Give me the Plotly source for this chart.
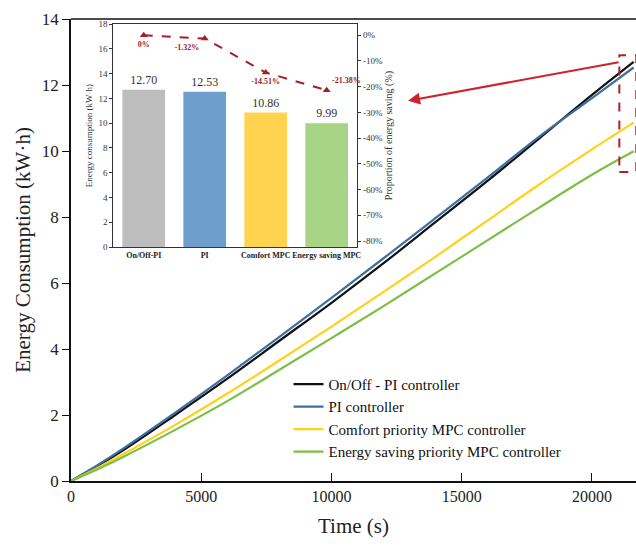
import plotly.graph_objects as go

# ---- main curves data ----
time_s = [0, 1000, 2000, 4000, 6000, 8000, 10000, 12000, 14000, 16000, 18000, 20000, 21600]
onoff_pi = [0, 0.45, 0.93, 2.0, 3.1, 4.25, 5.4, 6.6, 7.85, 9.1, 10.4, 11.7, 12.70]
pi_ctrl = [0, 0.47, 0.98, 2.07, 3.2, 4.37, 5.55, 6.75, 7.97, 9.2, 10.45, 11.6, 12.53]
comfort_mpc = [0, 0.39, 0.81, 1.7, 2.65, 3.65, 4.68, 5.73, 6.8, 7.9, 9.0, 10.05, 10.86]
saving_mpc = [0, 0.35, 0.73, 1.55, 2.42, 3.37, 4.33, 5.3, 6.3, 7.3, 8.3, 9.28, 9.99]
series_names = ["On/Off - PI controller", "PI controller",
                "Comfort priority MPC controller", "Energy saving priority MPC controller"]
series_colors = ["#111111", "#3F6F9F", "#FFD21A", "#7DBE45"]

# ---- inset data ----
inset_cats = ["On/Off-PI", "PI", "Comfort MPC", "Energy saving MPC"]
inset_energy = [12.70, 12.53, 10.86, 9.99]
inset_saving = [0, -1.32, -14.51, -21.38]
inset_bar_colors = ["#BDBDBD", "#6E9FCC", "#FFD24F", "#A7D585"]

y_ticks = [0, 2, 4, 6, 8, 10, 12, 14]
x_ticks = [0, 5000, 10000, 15000, 20000]
inset_left_ticks = [0, 2, 4, 6, 8, 10, 12, 14, 16, 18]
inset_right_ticks = [0, -10, -20, -30, -40, -50, -60, -70, -80]

SERIF = "Liberation Serif, Times New Roman, serif"
RED = "#A3202B"

fig = go.Figure()
for name, vals, col in zip(series_names, [onoff_pi, pi_ctrl, comfort_mpc, saving_mpc], series_colors):
    fig.add_trace(go.Scatter(x=time_s, y=vals, mode="lines", name=name, line_shape="spline",
                             line=dict(color=col, width=2.2), xaxis="x", yaxis="y"))

# inset bars
fig.add_trace(go.Bar(x=inset_cats, y=inset_energy, marker=dict(color=inset_bar_colors, line=dict(width=0)),
                     width=0.7, text=[f"{v:.2f}" for v in inset_energy], textposition="outside",
                     textfont=dict(family=SERIF, size=12, color="#333333"), cliponaxis=False,
                     xaxis="x2", yaxis="y2", showlegend=False))
# inset saving line
fig.add_trace(go.Scatter(x=inset_cats, y=inset_saving, mode="lines+markers+text",
                         line=dict(color=RED, width=2, dash="dash"),
                         marker=dict(symbol="triangle-up", size=7, color=RED),
                         text=[f"<b>{v:g}%</b>" if v == 0 else f"<b>{v:.2f}%</b>" for v in inset_saving],
                         textposition=["bottom center", "bottom left", "bottom center", "top right"],
                         textfont=dict(family=SERIF, size=8, color=RED),
                         xaxis="x2", yaxis="y3", showlegend=False, cliponaxis=False))

# main axes domain in pixels: x 71..636, y 19..481
fig.update_layout(
    width=636, height=550,
    margin=dict(l=71, r=0, t=19, b=69, autoexpand=False),
    paper_bgcolor="white", plot_bgcolor="white",
    font=dict(family=SERIF, color="#222222"),
    xaxis=dict(range=[0, 21690], tickvals=x_ticks, ticktext=[str(v) for v in x_ticks], automargin=False,
               showgrid=False, zeroline=False, showline=True, linecolor="#111", linewidth=1.5,
               mirror=False, ticks="inside", ticklen=8, tickcolor="#111",
               tickfont=dict(family=SERIF, size=16, color="#222"),
               title=dict(text="Time (s)", font=dict(family=SERIF, size=21, color="#222"), standoff=14)),
    yaxis=dict(range=[0, 14], tickvals=y_ticks, showgrid=False, zeroline=False, showline=True, automargin=False,
               linecolor="#111", linewidth=1.5, ticks="outside", ticklen=7, tickcolor="#111",
               tickfont=dict(family=SERIF, size=17, color="#222"),
               title=dict(text="Energy Consumption (kW·h)", font=dict(family=SERIF, size=21, color="#222"),
                          standoff=5)),
    xaxis2=dict(domain=[0.0748, 0.5065], anchor="y2", type="category", range=[-0.5, 3.5], automargin=False,
                showgrid=False, zeroline=False, showline=True, mirror=True, linecolor="#333", linewidth=1,
                ticks="", tickangle=0, tickvals=inset_cats, ticktext=[f"<b>{c}</b>" for c in inset_cats],
                tickfont=dict(family=SERIF, size=8, color="#222")),
    yaxis2=dict(domain=[0.5065, 0.989], anchor="x2", range=[0, 18], tickvals=inset_left_ticks, automargin=False,
                showgrid=False, zeroline=False, showline=True, linecolor="#333", linewidth=1,
                ticks="outside", ticklen=3, tickcolor="#333",
                tickfont=dict(family=SERIF, size=9, color="#333"),
                title=dict(text="Energy consumption (kW·h)", font=dict(family=SERIF, size=9, color="#333"),
                           standoff=4)),
    yaxis3=dict(overlaying="y2", side="right", anchor="x2", range=[-82.3, 4.3], automargin=False,
                tickvals=inset_right_ticks, ticktext=[f"{v}%" for v in inset_right_ticks],
                showgrid=False, zeroline=False, showline=True, linecolor="#333", linewidth=1,
                ticks="outside", ticklen=3, tickcolor="#333",
                tickfont=dict(family=SERIF, size=9, color="#333"),
                title=dict(text="Proportion of energy saving (%)", font=dict(family=SERIF, size=10, color="#333"),
                           standoff=2)),
    legend=dict(x=0.385, y=0.245, xanchor="left", yanchor="top", bgcolor="rgba(0,0,0,0)",
                font=dict(family=SERIF, size=15, color="#111"), tracegroupgap=0, itemwidth=30),
    bargap=0.3,
    shapes=[
        # top frame line of the main plot
        dict(type="line", xref="paper", yref="paper", x0=0, x1=1, y0=1, y1=1,
             line=dict(color="#111", width=1.5)),
        # red dashed highlight box
        dict(type="rect", xref="x", yref="y", x0=21050, x1=21700, y0=9.36, y1=12.9,
             line=dict(color="#B0202A", width=2, dash="dash")),
    ],
    annotations=[
        dict(x=12940, y=11.52, xref="x", yref="y", ax=21080, ay=12.7, axref="x", ayref="y",
             showarrow=True, arrowhead=2, arrowsize=1.2, arrowwidth=2, arrowcolor="#D0202A", text=""),
    ],
)

fig.write_html("out.html", config={"displayModeBar": False},
               post_script="document.body.style.margin='0';")
